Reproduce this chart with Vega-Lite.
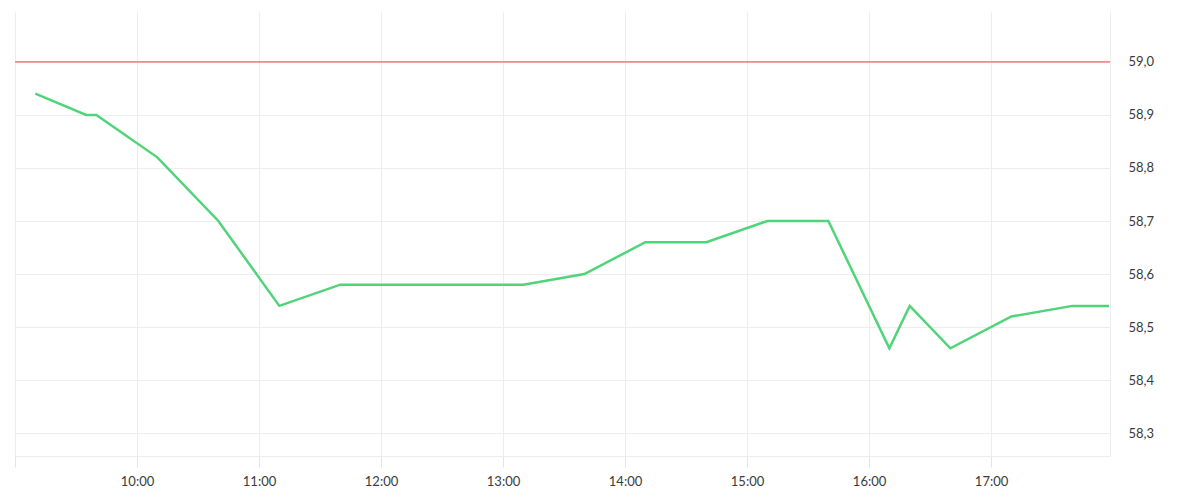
{
  "$schema": "https://vega.github.io/schema/vega-lite/v6.json",
  "width": 1095,
  "height": 444,
  "autosize": {"type": "none"},
  "padding": {"left": 15, "top": 12, "right": 90, "bottom": 44},
  "background": "white",
  "config": {
    "view": {"stroke": null},
    "font": "Lato"
  },
  "datasets": {
    "price": [
      {"t": "2024-01-01T09:10:00Z", "v": 58.94},
      {"t": "2024-01-01T09:35:00Z", "v": 58.90},
      {"t": "2024-01-01T09:40:00Z", "v": 58.90},
      {"t": "2024-01-01T10:10:00Z", "v": 58.82},
      {"t": "2024-01-01T10:40:00Z", "v": 58.70},
      {"t": "2024-01-01T11:10:00Z", "v": 58.54},
      {"t": "2024-01-01T11:40:00Z", "v": 58.58},
      {"t": "2024-01-01T13:10:00Z", "v": 58.58},
      {"t": "2024-01-01T13:40:00Z", "v": 58.60},
      {"t": "2024-01-01T14:10:00Z", "v": 58.66},
      {"t": "2024-01-01T14:40:00Z", "v": 58.66},
      {"t": "2024-01-01T15:10:00Z", "v": 58.70},
      {"t": "2024-01-01T15:40:00Z", "v": 58.70},
      {"t": "2024-01-01T16:10:00Z", "v": 58.46},
      {"t": "2024-01-01T16:20:00Z", "v": 58.54},
      {"t": "2024-01-01T16:40:00Z", "v": 58.46},
      {"t": "2024-01-01T17:10:00Z", "v": 58.52},
      {"t": "2024-01-01T17:40:00Z", "v": 58.54},
      {"t": "2024-01-01T17:58:00Z", "v": 58.54}
    ],
    "ref": [{"level": 59.0}]
  },
  "layer": [
    {
      "data": {"name": "price"},
      "mark": {"type": "line", "color": "#50d47a", "strokeWidth": 2.5, "clip": true},
      "encoding": {
        "x": {
          "field": "t",
          "type": "temporal",
          "scale": {
            "type": "utc",
            "domain": [
              {"year": 2024, "month": 1, "date": 1, "hours": 9, "minutes": 0, "utc": true},
              {"year": 2024, "month": 1, "date": 1, "hours": 17, "minutes": 58, "seconds": 30, "utc": true}
            ],
            "nice": false
          },
          "axis": {
            "title": null,
            "orient": "bottom",
            "tickCount": 10,
            "format": "%H:%M",
            "labelExpr": "datum.label == '09:00' ? '' : datum.label",
            "grid": true,
            "gridColor": "#ededed",
            "gridWidth": 1,
            "domain": true,
            "domainColor": "#ededed",
            "ticks": true,
            "tickColor": "#e3e3e3",
            "tickSize": 11,
            "labelFont": "Lato",
            "labelFontSize": 13,
            "labelColor": "#3a3a3a",
            "labelPadding": 8,
            "labelFlush": false
          }
        },
        "y": {
          "field": "v",
          "type": "quantitative",
          "scale": {"domain": [58.257, 59.094], "nice": false, "zero": false},
          "axis": {
            "title": null,
            "orient": "right",
            "values": [58.3, 58.4, 58.5, 58.6, 58.7, 58.8, 58.9, 59.0],
            "labelExpr": "replace(format(datum.value, '.1f'), '.', ',')",
            "grid": true,
            "gridColor": "#ededed",
            "domain": true,
            "domainColor": "#ededed",
            "ticks": false,
            "labelFont": "Lato",
            "labelFontSize": 13,
            "labelColor": "#3a3a3a",
            "labelPadding": 18,
            "labelAlign": "left",
            "labelBaseline": "middle"
          }
        }
      }
    },
    {
      "data": {"name": "ref"},
      "mark": {"type": "rule", "color": "#ff5a64", "strokeWidth": 1.2},
      "encoding": {
        "y": {"field": "level", "type": "quantitative"}
      }
    }
  ]
}
